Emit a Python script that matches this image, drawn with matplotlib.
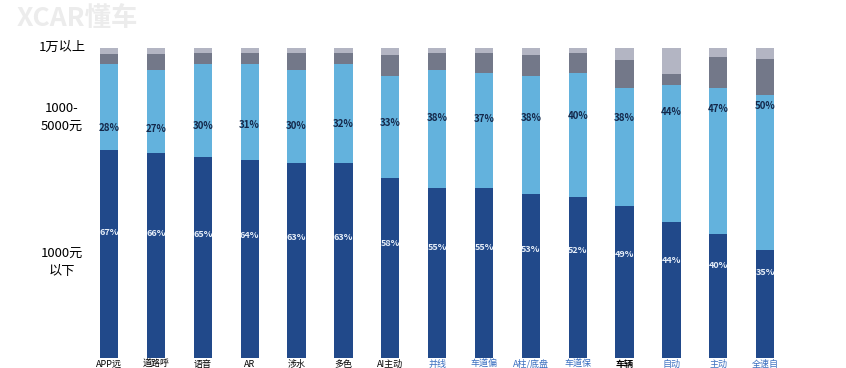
import numpy as np
import matplotlib.pyplot as plt

plt.rcParams['font.family'] = ['Noto Sans CJK SC', 'DejaVu Sans']

categories = ['APP远', '道路呼', '语音', 'AR', '涉水', '多色', 'AI主动', '并线',
              '车道偏', 'A柱/底盘', '车道保', '车辆', '自动', '主动', '全速自']
low = [67, 66, 65, 64, 63, 63, 58, 55, 55, 53, 52, 49, 44, 40, 35]       # 1000元以下
mid = [28, 27, 30, 31, 30, 32, 33, 38, 37, 38, 40, 38, 44, 47, 50]       # 1000-5000元
high = [3, 5, 3.3, 3.5, 5.3, 3.5, 6.8, 5.3, 6.3, 6.8, 6.3, 9.2, 3.7, 10, 11.5]  # 5000-1万
top = [2, 2, 1.7, 1.5, 1.7, 1.5, 2.2, 1.7, 1.7, 2.2, 1.7, 3.8, 8.3, 3, 3.5]    # 1万以上
label_colors = ['black'] * 7 + ['#3a6fc0'] * 4 + ['black'] + ['#3a6fc0'] * 3

c_low = '#21498a'
c_mid = '#63b2dd'
c_high = '#737889'
c_top = '#b3b5c3'

fig = plt.figure(figsize=(8.46, 3.68), dpi=100)
ax = fig.add_axes([0.1012, 0.0272, 0.831, 0.842])

x = np.arange(len(categories))
low = np.array(low)
mid = np.array(mid)
high = np.array(high)
top = np.array(top)
w = 0.39
ax.bar(x, low, w, color=c_low)
ax.bar(x, mid, w, bottom=low, color=c_mid)
ax.bar(x, high, w, bottom=low + mid, color=c_high)
ax.bar(x, top, w, bottom=low + mid + high, color=c_top)

for i in range(len(x)):
    ax.text(x[i], 0.403 * low[i] + 13.6, f'{low[i]}%', ha='center', va='center',
            fontsize=6.5, color='#e6eef8', fontweight='bold')
    ax.text(x[i], 0.323 * mid[i] + 65.2, f'{mid[i]}%', ha='center', va='center',
            fontsize=7, color='#14284a', fontweight='bold')
    ax.text(x[i], -2.0, categories[i], ha='center', va='center', fontsize=6.5,
            color=label_colors[i], fontweight='bold' if categories[i] == '车辆' else 'normal',
            clip_on=False)

ax.set_xlim(-0.5, 14.5)
ax.set_ylim(0, 100)
ax.axis('off')

fig.text(62 / 846, 1 - 47 / 368, '1万以上', ha='center', va='center', fontsize=9.5)
fig.text(62 / 846, 1 - 117 / 368, '1000-\n5000元', ha='center', va='center',
         fontsize=9.5, linespacing=1.5)
fig.text(62 / 846, 1 - 262 / 368, '1000元\n以下', ha='center', va='center',
         fontsize=9.5, linespacing=1.5)

# watermark
fig.text(0.02, 0.95, 'XCAR懂车', ha='left', va='center', fontsize=19,
         fontweight='bold', style='italic', color='#ececec')

fig.savefig('out.png', dpi=100)
